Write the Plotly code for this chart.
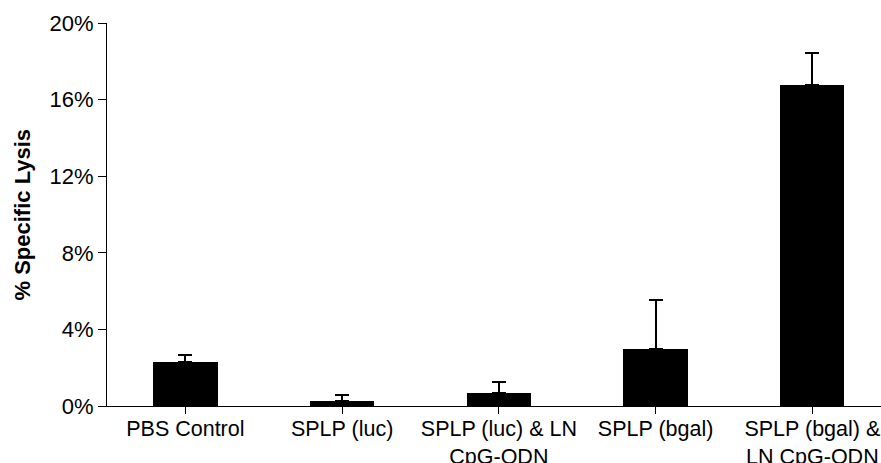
import plotly.graph_objects as go

categories = ["PBS Control", "SPLP (luc)", "SPLP (luc) & LN<br>CpG-ODN", "SPLP (bgal)", "SPLP (bgal) &<br>LN CpG-ODN"]
lysis_pct = [2.28, 0.26, 0.67, 3.0, 16.75]
error_plus = [0.38, 0.32, 0.6, 2.52, 1.67]
y_ticks = [0, 4, 8, 12, 16, 20]
y_tick_labels = ["0%", "4%", "8%", "12%", "16%", "20%"]

FONT = "Liberation Sans, Arial, Helvetica, sans-serif"

fig = go.Figure()
fig.add_trace(go.Bar(
    x=list(range(len(categories))),
    y=lysis_pct,
    width=0.41,
    marker=dict(color="black", line=dict(width=0)),
    error_y=dict(type="data", symmetric=False, array=error_plus,
                 arrayminus=[0] * len(error_plus),
                 color="black", thickness=2, width=7),
    showlegend=False,
))

fig.update_layout(
    width=881, height=463,
    margin=dict(l=107, r=0, t=23, b=57),
    paper_bgcolor="white", plot_bgcolor="white",
    font=dict(family=FONT, color="black"),
    bargap=0,
)
fig.update_xaxes(
    range=[-0.5, 4.438],
    automargin=False,
    tickmode="array",
    tickvals=list(range(len(categories))),
    ticktext=categories,
    tickson="boundaries",
    ticks="outside", ticklen=7, tickcolor="black", tickwidth=1,
    ticklabelstandoff=-4,
    tickfont=dict(size=21.5, family=FONT, color="black"),
    showline=True, linecolor="black", linewidth=1,
    showgrid=False, zeroline=False,
    tickangle=0,
)
fig.update_yaxes(
    range=[0, 20],
    automargin=False,
    tickmode="array",
    tickvals=y_ticks,
    ticktext=y_tick_labels,
    ticks="outside", ticklen=8, tickcolor="black", tickwidth=1,
    tickfont=dict(size=22, family=FONT, color="black"),
    showline=True, linecolor="black", linewidth=1,
    showgrid=False, zeroline=False,
)
fig.add_annotation(
    text="<b>% Specific Lysis</b>",
    textangle=-90,
    xref="paper", yref="paper",
    x=-85 / 774, y=0.5,
    xanchor="center", yanchor="middle",
    showarrow=False,
    font=dict(size=22, family=FONT, color="black"),
)

fig.write_html(
    "out.html",
    config={"displayModeBar": False},
    post_script="document.body.style.margin='0';document.body.style.overflow='hidden';",
)
